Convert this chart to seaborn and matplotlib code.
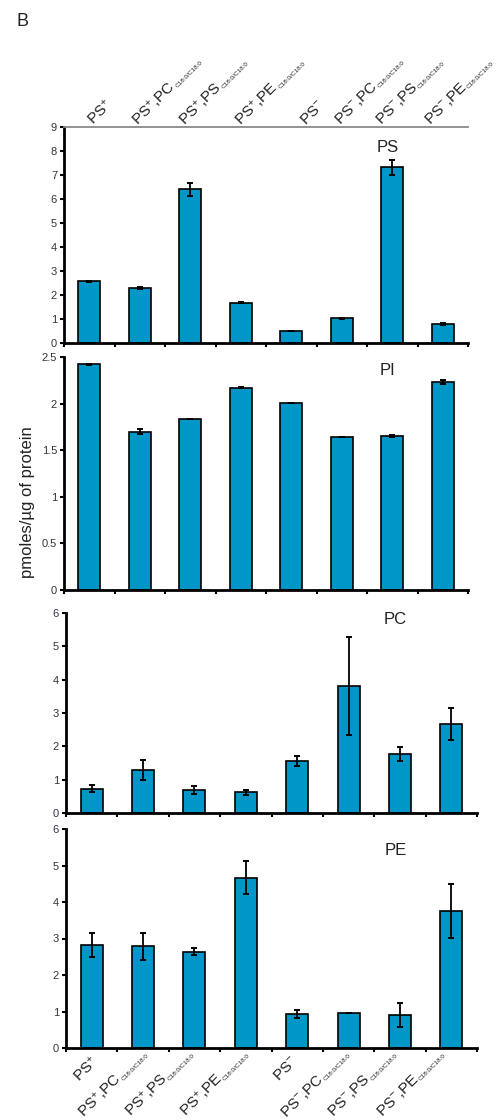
import numpy as np
import pandas as pd
import matplotlib
matplotlib.use('Agg')
import matplotlib.pyplot as plt
import matplotlib.transforms as mtransforms
import seaborn as sns

# ---------------- data ----------------
conditions = ['PS+', 'PS+,PC', 'PS+,PS', 'PS+,PE', 'PS-', 'PS-,PC', 'PS-,PS', 'PS-,PE']
label_main = [r'PS$^{+}$', r'PS$^{+}$,PC', r'PS$^{+}$,PS', r'PS$^{+}$,PE',
              r'PS$^{-}$', r'PS$^{-}$,PC', r'PS$^{-}$,PS', r'PS$^{-}$,PE']
label_sub = ['', 'C18:0/C18:0', 'C18:0/C18:0', 'C18:0/C18:0',
             '', 'C18:0/C18:0', 'C18:0/C18:0', 'C18:0/C18:0']

ps_values = [2.57, 2.30, 6.40, 1.68, 0.51, 1.03, 7.32, 0.80]
ps_errors = [0.03, 0.04, 0.27, 0.02, 0.01, 0.02, 0.32, 0.05]
pi_values = [2.42, 1.70, 1.835, 2.17, 2.01, 1.64, 1.655, 2.23]
pi_errors = [0.01, 0.03, 0.005, 0.005, 0.0, 0.0, 0.01, 0.02]
pc_values = [0.73, 1.28, 0.69, 0.62, 1.56, 3.81, 1.77, 2.67]
pc_errors = [0.11, 0.30, 0.13, 0.08, 0.14, 1.46, 0.21, 0.48]
pe_values = [2.82, 2.79, 2.64, 4.67, 0.93, 0.96, 0.90, 3.76]
pe_errors = [0.33, 0.37, 0.09, 0.46, 0.10, 0.01, 0.32, 0.74]

panel_names = ['PS', 'PI', 'PC', 'PE']
panel_values = [ps_values, pi_values, pc_values, pe_values]
panel_errors = [ps_errors, pi_errors, pc_errors, pe_errors]
panel_ymax = [9, 2.5, 6, 6]
panel_ystep = [1, 0.5, 1, 1]

# label placement shifts (category units)
top_shift = [0.08, -0.03, -0.10, 0.01, 0.28, -0.03, -0.22, -0.25]
bottom_shift = [0.15, 0.10, 0.0, 0.06, 0.02, 0.03, -0.06, -0.12]

# ---------------- style ----------------
sns.set_style('ticks')
plt.rcParams['font.family'] = ['Liberation Sans', 'DejaVu Sans']
plt.rcParams['mathtext.fontset'] = 'custom'
plt.rcParams['mathtext.rm'] = 'Liberation Sans'
plt.rcParams['mathtext.it'] = 'Liberation Sans:italic'
plt.rcParams['mathtext.bf'] = 'Liberation Sans:bold'

bar_color = '#0096C8'
text_color = '#222222'
W, H = 499, 1120
fig = plt.figure(figsize=(W / 100, H / 100), dpi=100)

# axes boxes in pixels: left, right, top, bottom
boxes = [(64, 468, 127, 343), (64, 468, 357, 590), (66, 477, 613, 813), (66, 477, 829, 1048)]
title_pos = [(0.80, 0.907), (0.80, 0.941), (0.802, 0.965), (0.802, 0.90)]

axes = []
for k, (l, r, t, b) in enumerate(boxes):
    ax = fig.add_axes([l / W, 1 - b / H, (r - l) / W, (b - t) / H])
    axes.append(ax)
    df = pd.DataFrame({'condition': conditions, 'value': panel_values[k]})
    sns.barplot(data=df, x='condition', y='value', ax=ax, color=bar_color,
                saturation=1, width=0.43, edgecolor='black', linewidth=1.2,
                errorbar=None)
    xs = [p.get_x() + p.get_width() / 2 for p in ax.patches]
    ax.errorbar(xs, panel_values[k], yerr=panel_errors[k], fmt='none',
                ecolor='black', elinewidth=1.3, capsize=2.4, capthick=1.4, zorder=5)
    ax.set_xlim(-0.5, 7.5)
    ax.set_ylim(0, panel_ymax[k])
    yt = np.arange(0, panel_ymax[k] + 1e-9, panel_ystep[k])
    ax.set_yticks(yt)
    ax.set_yticklabels([f'{v:g}' for v in yt])
    ax.set_xticks(np.arange(-0.5, 8, 1))
    ax.set_xticklabels([])
    ax.set_xlabel('')
    ax.set_ylabel('')
    for s in ['left', 'bottom']:
        ax.spines[s].set_linewidth(2.0)
        ax.spines[s].set_color('black')
    ax.spines['right'].set_visible(False)
    ax.spines['top'].set_visible(False)
    ax.tick_params(axis='y', direction='out', length=3, width=1.5, pad=2,
                   labelsize=8, labelcolor='#333340', color='black')
    ax.tick_params(axis='x', direction='out', length=3, width=1.5, color='black')
    ax.set_facecolor('white')
    ax.text(title_pos[k][0], title_pos[k][1], panel_names[k], transform=ax.transAxes,
            ha='center', va='center', fontsize=12, color=text_color)

ax0 = axes[0]
ax0.spines['top'].set_visible(True)
ax0.spines['top'].set_color('#8a8a8a')
ax0.spines['top'].set_linewidth(1.3)

fig.canvas.draw()
renderer = fig.canvas.get_renderer()
ident = mtransforms.IdentityTransform()
MAIN_FS, SUB_FS = 11, 4.6


def text_width(s, size):
    tt = fig.text(0, 0, s, fontsize=size)
    w = tt.get_window_extent(renderer).width
    tt.remove()
    return w


u = np.array([np.cos(np.pi / 4), np.sin(np.pi / 4)])
pdown = np.array([u[1], -u[0]])
SUB_DROP = 1.5
GAP = 0.5

# top labels (start anchored at baseline on the grey line)
y_top = ax0.transAxes.transform((0, 1))[1] + 1.5
for i in range(8):
    x0 = ax0.transData.transform((i + top_shift[i], 0))[0]
    P = np.array([x0, y_top])
    fig.text(P[0], P[1], label_main[i], transform=ident, rotation=45, ha='left',
             va='baseline', rotation_mode='anchor', fontsize=MAIN_FS, color=text_color)
    if label_sub[i]:
        wm = text_width(label_main[i], MAIN_FS)
        S = P + (wm + GAP) * u + SUB_DROP * pdown
        fig.text(S[0], S[1], label_sub[i], transform=ident, rotation=45, ha='left',
                 va='baseline', rotation_mode='anchor', fontsize=SUB_FS, color=text_color)

# bottom labels (end anchored below the PE axis)
ax3 = axes[3]
y_axis = ax3.transAxes.transform((0, 0))[1]
for i in range(8):
    x0 = ax3.transData.transform((i + bottom_shift[i], 0))[0]
    if label_sub[i]:
        Q = np.array([x0, y_axis - 6])
        ws = text_width(label_sub[i], SUB_FS)
        S = Q + SUB_DROP * pdown
        fig.text(S[0], S[1], label_sub[i], transform=ident, rotation=45, ha='right',
                 va='baseline', rotation_mode='anchor', fontsize=SUB_FS, color=text_color)
        M = Q - (ws + GAP) * u
    else:
        M = np.array([x0, y_axis - 14])
    fig.text(M[0], M[1], label_main[i], transform=ident, rotation=45, ha='right',
             va='baseline', rotation_mode='anchor', fontsize=MAIN_FS, color=text_color)

fig.text(28 / W, 1 - 502 / H, 'pmoles/µg of protein', rotation=90, ha='center',
         va='center', fontsize=12, color=text_color)
fig.text(17 / W, 1 - 22 / H, 'B', ha='left', va='center', fontsize=13, color=text_color)

fig.savefig('out.png', dpi=100, facecolor='white')
